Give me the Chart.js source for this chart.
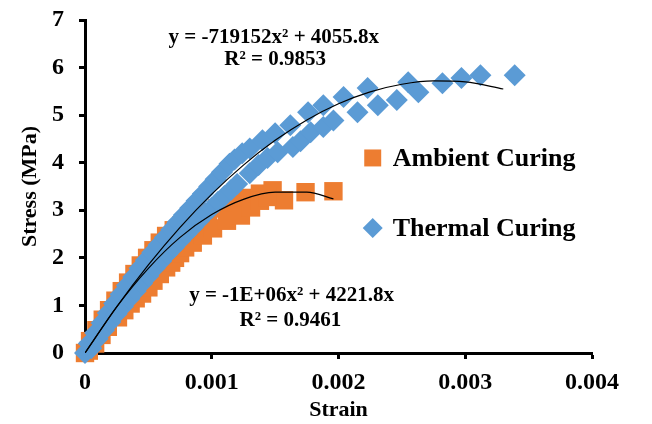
<!DOCTYPE html>
<html>
<head>
<meta charset="utf-8">
<script src="https://cdn.jsdelivr.net/npm/chart.js@4.4.1/dist/chart.umd.min.js"></script>
<style>
  html, body { margin: 0; padding: 0; background: #fff; }
  #wrap { width: 652px; height: 424px; }
</style>
</head>
<body>
<div id="wrap"><canvas id="stress-chart" width="652" height="424"></canvas></div>
<script>
// axis ticks
var xTicks = [0, 0.001, 0.002, 0.003, 0.004];
var yTicks = [0, 1, 2, 3, 4, 5, 6, 7];

// Ambient curing (strain, stress MPa)
var ambientStrain = [0, 0.00004, 0.00009, 0.00014, 0.00019, 0.00024, 0.00029, 0.00034, 0.00039, 0.00044,
  0.00049, 0.00054, 0.00059, 0.00064, 0.0007, 0.00076, 0.00083, 0.0009, 0.00097, 0.00104,
  0.00112, 0.0012, 0.00129, 0.00138, 0.00148, 0.00157, 0.00174, 0.00196,
  0.00003, 0.00008, 0.00013, 0.00018, 0.00026, 0.00031, 0.00036, 0.0004, 0.00045, 0.0005,
  0.00054, 0.00059, 0.00064, 0.00068, 0.00071, 0.00075, 0.00079, 0.00085, 0.00093, 0.00101,
  0.00112, 0.00123, 0.00131, 0.00138, 0.00144];
var ambientStress = [0, 0.25, 0.48, 0.7, 0.9, 1.1, 1.3, 1.48, 1.66, 1.84,
  2.0, 2.16, 2.32, 2.46, 2.58, 2.68, 2.78, 2.88, 2.96, 3.04,
  3.12, 3.2, 3.26, 3.35, 3.42, 3.21, 3.38, 3.40,
  0.05, 0.2, 0.38, 0.55, 0.75, 0.9, 1.04, 1.15, 1.25, 1.38,
  1.52, 1.66, 1.8, 1.9, 2.0, 2.1, 2.22, 2.32, 2.47, 2.62,
  2.78, 2.89, 3.06, 3.2, 3.28];

// Thermal curing
var thermalStrain = [0, 0.00003, 0.00008, 0.00013, 0.00018, 0.00023, 0.00028, 0.00033, 0.00038, 0.00043,
  0.00048, 0.00053, 0.00058, 0.00063, 0.00068, 0.00073, 0.00078, 0.00083, 0.00088, 0.00093,
  0.00098, 0.00103, 0.00108, 0.00114, 0.00118, 0.00124, 0.0013, 0.0014, 0.0015, 0.00162,
  0.00176, 0.00188, 0.00204, 0.00223, 0.00255, 0.00282, 0.00297, 0.00312, 0.00339,
  0.00005, 0.0001, 0.00015, 0.0002, 0.00025, 0.0003, 0.00035, 0.0004, 0.00045, 0.0005,
  0.00055, 0.0006, 0.00065, 0.0007, 0.00075, 0.0008, 0.00085, 0.0009, 0.00095, 0.001,
  0.00105, 0.0011, 0.00115, 0.0012, 0.0013, 0.00137, 0.00144, 0.00152, 0.00164, 0.0017,
  0.00178, 0.00188, 0.00196, 0.00215, 0.00231, 0.00246, 0.00263];
var thermalStress = [0, 0.2, 0.42, 0.63, 0.84, 1.04, 1.23, 1.42, 1.6, 1.78,
  1.95, 2.11, 2.27, 2.43, 2.59, 2.75, 2.9, 3.05, 3.2, 3.35,
  3.5, 3.65, 3.8, 3.98, 4.07, 4.2, 4.3, 4.47, 4.62, 4.79,
  5.06, 5.21, 5.38, 5.57, 5.69, 5.67, 5.78, 5.84, 5.84,
  0.1, 0.3, 0.48, 0.65, 0.82, 0.98, 1.14, 1.3, 1.46, 1.62,
  1.78, 1.93, 2.08, 2.22, 2.36, 2.5, 2.64, 2.78, 2.92, 3.05,
  3.18, 3.3, 3.42, 3.55, 3.78, 3.95, 4.1, 4.22, 4.33, 4.45,
  4.64, 4.75, 4.89, 5.06, 5.21, 5.32, 5.48];

// trendlines
var thermalFitX = [0, 0.00025, 0.0005, 0.00075, 0.001, 0.00125, 0.0015, 0.00175, 0.002, 0.00225, 0.0025, 0.00275, 0.003, 0.0033];
var thermalFitY = [0, 0.97, 1.85, 2.64, 3.34, 3.95, 4.47, 4.9, 5.24, 5.49, 5.65, 5.72, 5.7, 5.55];
var ambientFitX = [0, 0.00025, 0.0005, 0.00075, 0.001, 0.00125, 0.0015, 0.00175, 0.00196];
var ambientFitY = [0, 0.97, 1.78, 2.43, 2.91, 3.23, 3.38, 3.38, 3.24];

var seriesNames = ['Ambient Curing', 'Thermal Curing'];
var equations = ['y = -719152x\u00B2 + 4055.8x', 'R\u00B2 = 0.9853', 'y = -1E+06x\u00B2 + 4221.8x', 'R\u00B2 = 0.9461'];

var ORANGE = '#ED7D31';
var BLUE = '#5B9BD5';
var FONT = '"Liberation Serif", "Times New Roman", serif';

function toPoints(xs, ys) {
  var pts = [];
  for (var i = 0; i < xs.length; i++) {
    pts.push({x: xs[i], y: ys[i]});
  }
  return pts;
}

// equations + legend drawn inside the plot
var labelsPlugin = {
  id: 'labelsPlugin',
  afterDraw: function(chart) {
    var ctx = chart.ctx;
    var xs = chart.scales.x, ys = chart.scales.y;
    var eqPos = [[0.00149, 6.62], [0.0015, 6.16], [0.00163, 1.2], [0.00162, 0.69]];
    ctx.save();
    ctx.fillStyle = '#000';
    ctx.textAlign = 'center';
    ctx.textBaseline = 'middle';
    ctx.font = 'bold 21px ' + FONT;
    for (var i = 0; i < equations.length; i++) {
      ctx.fillText(equations[i], xs.getPixelForValue(eqPos[i][0]), ys.getPixelForValue(eqPos[i][1]));
    }

    // legend
    var lx = xs.getPixelForValue(0.00227);
    var rows = [[4.1, 'rect', ORANGE, 12], [2.63, 'rectRot', BLUE, 10]];
    ctx.font = 'bold 26px ' + FONT;
    ctx.textAlign = 'left';
    for (var j = 0; j < rows.length; j++) {
      var ly = ys.getPixelForValue(rows[j][0]);
      ctx.fillStyle = rows[j][2];
      Chart.helpers.drawPoint(ctx, {pointStyle: rows[j][1], radius: rows[j][3], rotation: 0, borderWidth: 0}, lx, ly);
      ctx.fillStyle = '#000';
      ctx.fillText(seriesNames[j], lx + 20, ly + 1);
    }
    ctx.restore();
  }
};

var chart = new Chart(document.getElementById('stress-chart'), {
  type: 'scatter',
  data: {
    datasets: [
      {
        label: 'Thermal trend',
        data: toPoints(thermalFitX, thermalFitY),
        showLine: true,
        borderColor: '#000',
        borderWidth: 1.2,
        pointRadius: 0,
        cubicInterpolationMode: 'monotone',
        order: 0
      },
      {
        label: 'Ambient trend',
        data: toPoints(ambientFitX, ambientFitY),
        showLine: true,
        borderColor: '#000',
        borderWidth: 1.2,
        pointRadius: 0,
        cubicInterpolationMode: 'monotone',
        order: 0
      },
      {
        label: seriesNames[1],
        data: toPoints(thermalStrain, thermalStress),
        pointStyle: 'rectRot',
        pointRadius: 11,
        pointBackgroundColor: BLUE,
        pointBorderWidth: 0,
        clip: false,
        order: 1
      },
      {
        label: seriesNames[0],
        data: toPoints(ambientStrain, ambientStress),
        pointStyle: 'rect',
        pointRadius: 13,
        pointBackgroundColor: ORANGE,
        pointBorderWidth: 0,
        clip: false,
        order: 2
      }
    ]
  },
  options: {
    responsive: false,
    animation: false,
    events: [],
    layout: {
      padding: {left: 0, right: 60, top: 20, bottom: 0}
    },
    plugins: {
      legend: {display: false},
      tooltip: {enabled: false}
    },
    scales: {
      x: {
        type: 'linear',
        min: 0,
        max: 0.004,
        afterBuildTicks: function(scale) {
          scale.ticks = xTicks.map(function(v) { return {value: v}; });
        },
        afterFit: function(scale) {
          scale.height = 71;
          scale.paddingLeft = 0;
          scale.paddingRight = 0;
        },
        border: {color: '#000', width: 3},
        grid: {drawOnChartArea: false, drawTicks: true, tickLength: 6, tickColor: '#000', tickWidth: 3},
        ticks: {
          color: '#000',
          padding: 9,
          font: {family: FONT, size: 24, weight: 'bold'},
          callback: function(v) { return String(Number(v.toFixed(3))); }
        },
        title: {
          display: true,
          text: 'Strain',
          color: '#000',
          font: {family: FONT, size: 22, weight: 'bold'},
          padding: {top: 0, bottom: 0}
        }
      },
      y: {
        type: 'linear',
        min: 0,
        max: 7,
        afterBuildTicks: function(scale) {
          scale.ticks = yTicks.map(function(v) { return {value: v}; });
        },
        afterFit: function(scale) {
          scale.width = 85;
          scale.paddingTop = 0;
          scale.paddingBottom = 0;
        },
        border: {color: '#000', width: 3},
        grid: {drawOnChartArea: false, drawTicks: true, tickLength: 6, tickColor: '#000', tickWidth: 3},
        ticks: {
          color: '#000',
          padding: 15,
          font: {family: FONT, size: 24, weight: 'bold'}
        },
        title: {
          display: true,
          text: 'Stress (MPa)',
          color: '#000',
          font: {family: FONT, size: 22, weight: 'bold'},
          padding: {top: 17, bottom: 0}
        }
      }
    }
  },
  plugins: [labelsPlugin]
});
</script>
</body>
</html>
